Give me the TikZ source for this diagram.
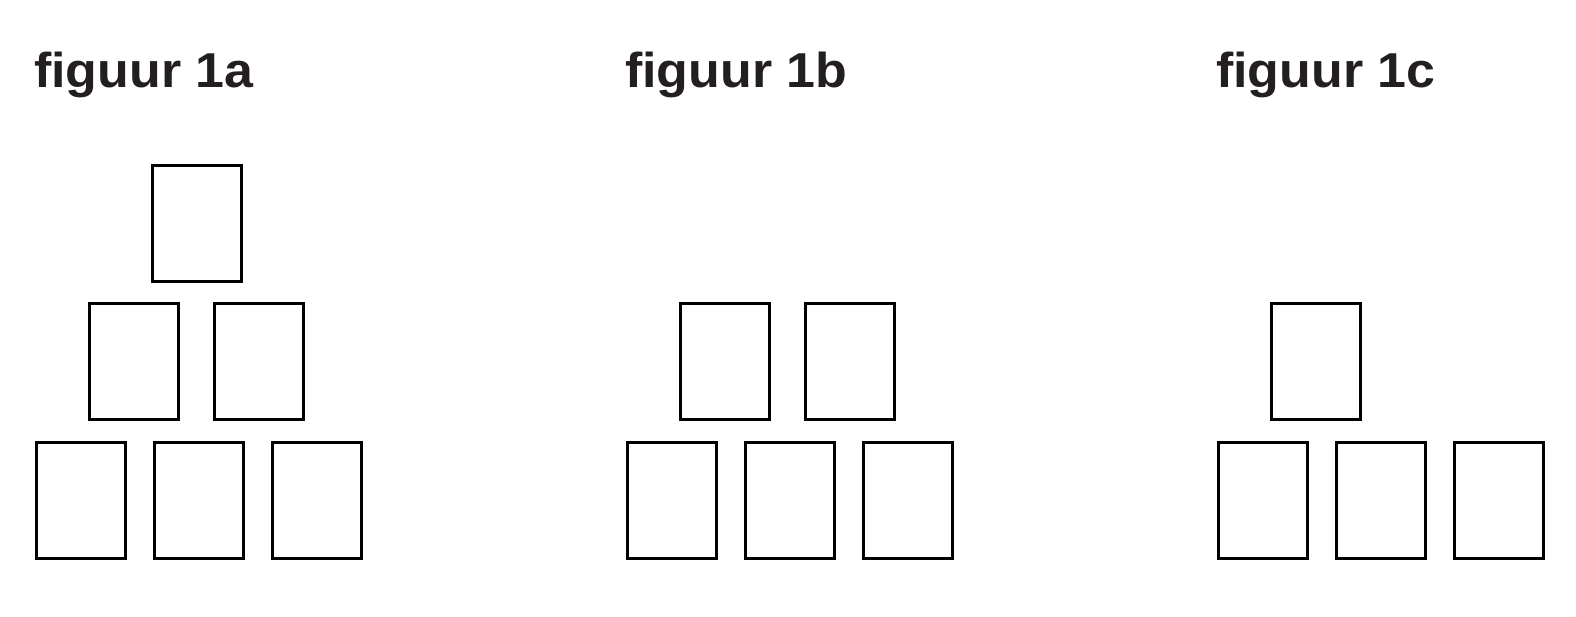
\documentclass[tikz,border=0pt]{standalone}
\usepackage{fontspec}
\setmainfont{Liberation Sans}
\newfontfamily\titlefont{Liberation Sans}[FakeStretch=1.06]
\definecolor{ink}{HTML}{231F20}
\begin{document}
\begin{tikzpicture}[x=1pt,y=-1pt,
  card/.style={draw=black,line width=3pt,minimum width=89pt,minimum height=116pt,inner sep=0pt,anchor=north west},
  title/.style={anchor=base west,inner sep=0pt,text=ink,font=\titlefont\fontsize{49}{59}\selectfont\bfseries}]
\useasboundingbox (0,0) rectangle (1576,617);
% titles
\node[title] (ta) at (34,88) {figuur 1a};
\node[title] (tb) at (625,88) {figuur 1b};
\node[title] (tc) at (1216,88) {figuur 1c};
% figure 1a
\node[card] (a1) at (151,164) {};
\node[card] (a2) at (88,302) {};
\node[card] (a3) at (213,302) {};
\node[card] (a4) at (34.5,441) {};
\node[card] (a5) at (152.5,441) {};
\node[card] (a6) at (270.5,441) {};
% figure 1b
\node[card] (b2) at (679,302) {};
\node[card] (b3) at (804,302) {};
\node[card] (b4) at (625.5,441) {};
\node[card] (b5) at (743.5,441) {};
\node[card] (b6) at (861.5,441) {};
% figure 1c
\node[card] (c2) at (1270,302) {};
\node[card] (c4) at (1216.5,441) {};
\node[card] (c5) at (1334.5,441) {};
\node[card] (c6) at (1452.5,441) {};
\end{tikzpicture}
\end{document}
